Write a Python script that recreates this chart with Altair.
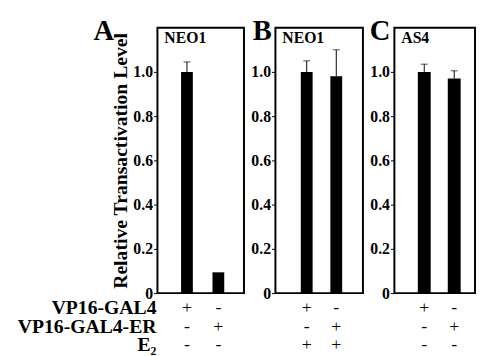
import altair as alt
import pandas as pd

# ---- data ----
conditions = ["c1", "c2"]
reporters = ["NEO1", "NEO1", "AS4"]
letters = ["A", "B", "C"]

values_a = [1.0, 0.094]
errors_a = [0.045, 0.0]
values_b = [1.0, 0.98]
errors_b = [0.05, 0.12]
values_c = [1.0, 0.97]
errors_c = [0.035, 0.035]

vp16_gal4_a = ["+", "-"]
vp16_gal4_er_a = ["-", "+"]
e2_a = ["-", "-"]
vp16_gal4_b = ["+", "-"]
vp16_gal4_er_b = ["-", "+"]
e2_b = ["+", "+"]
vp16_gal4_c = ["+", "-"]
vp16_gal4_er_c = ["-", "+"]
e2_c = ["-", "-"]

row_labels = ["VP16-GAL4", "VP16-GAL4-ER", "E\u2082"]
y_ticks = [0, 0.2, 0.4, 0.6, 0.8, 1.0]
y_title = "Relative Transactivation Level"

SERIF = "Liberation Serif"
H = 270
ROW_Y = [285, 305, 323]


def panel(letter, reporter, vals, errs, s1, s2, s3, width, pin, pout, align,
          letter_dx, first):
    df = pd.DataFrame({
        "cond": conditions,
        "value": vals,
        "top": [v + e for v, e in zip(vals, errs)],
        "s1": s1, "s2": s2, "s3": s3,
    })
    xs = alt.Scale(domain=conditions, paddingInner=pin, paddingOuter=pout, align=align)
    x = alt.X("cond:N", scale=xs, axis=None)
    yaxis = alt.Axis(
        values=y_ticks,
        labelExpr="datum.value == 0 ? '0' : format(datum.value, '.1f')",
        title=y_title if first else None,
        labelFont=SERIF, labelFontWeight="bold", labelFontSize=16, labelColor="black",
        titleFont=SERIF, titleFontSize=20, titleFontWeight="bold", titleColor="black",
        tickSize=4, labelPadding=1, titlePadding=2,
    )
    ys = alt.Scale(domain=[0, 1.2], nice=False)
    base = alt.Chart(df)
    bars = base.mark_bar(color="black").encode(
        x=x, y=alt.Y("value:Q", scale=ys, axis=yaxis))
    errdf = base.transform_filter("datum.top > datum.value")
    rule = errdf.mark_rule(color="black", strokeWidth=1).encode(
        x=x, y=alt.Y("value:Q", scale=ys, axis=yaxis), y2="top:Q")
    cap = errdf.mark_tick(color="black", thickness=1, size=7).encode(
        x=x, y=alt.Y("top:Q", scale=ys, axis=yaxis))
    layers = [bars, rule, cap]
    for col, yy in zip(["s1", "s2", "s3"], ROW_Y):
        layers.append(base.mark_text(font=SERIF, fontSize=18, color="black",
                                     baseline="middle").encode(
            x=x, y=alt.value(yy), text=f"{col}:N"))
    layers.append(alt.Chart(pd.DataFrame({"t": [letter]})).mark_text(
        font=SERIF, fontSize=29, fontWeight="bold", color="black",
        align="left", baseline="alphabetic").encode(
        text="t:N", x=alt.value(letter_dx), y=alt.value(13)))
    layers.append(alt.Chart(pd.DataFrame({"t": [reporter]})).mark_text(
        font=SERIF, fontSize=16, fontWeight="bold", color="black",
        align="left", baseline="alphabetic").encode(
        text="t:N", x=alt.value(7), y=alt.value(16)))
    if first:
        for lab, yy in zip(row_labels, ROW_Y):
            layers.append(alt.Chart(pd.DataFrame({"t": [lab]})).mark_text(
                font=SERIF, fontSize=20, fontWeight="bold", color="black",
                align="right", baseline="middle").encode(
                text="t:N", x=alt.value(-1), y=alt.value(yy)))
    return alt.layer(*layers).properties(width=width, height=H)


pa = panel(letters[0], reporters[0], values_a, errors_a, vp16_gal4_a, vp16_gal4_er_a, e2_a,
           88, 0.625, 0.69, 0.545, -65, True)
pb = panel(letters[1], reporters[1], values_b, errors_b, vp16_gal4_b, vp16_gal4_er_b, e2_b,
           89, 0.6, 0.78, 0.55, -23, False)
pc = panel(letters[2], reporters[2], values_c, errors_c, vp16_gal4_c, vp16_gal4_er_c, e2_c,
           82, 0.57, 0.63, 0.62, -25, False)

chart = alt.hconcat(pa, pb, pc, spacing=32, bounds="flush").properties(
    padding={"left": 8, "top": 6, "right": 0, "bottom": 0}
).configure_view(stroke="black", strokeWidth=2).configure_axis(
    labelFont=SERIF, labelFontWeight="bold", labelFontSize=16, labelColor="black",
    tickColor="black", tickSize=4, domain=False, grid=False,
    titleFont=SERIF, titleFontSize=20, titleFontWeight="bold", titleColor="black",
    labelPadding=1, titlePadding=2,
)

chart.save("out.html", embed_options={"renderer": "svg", "actions": False})
